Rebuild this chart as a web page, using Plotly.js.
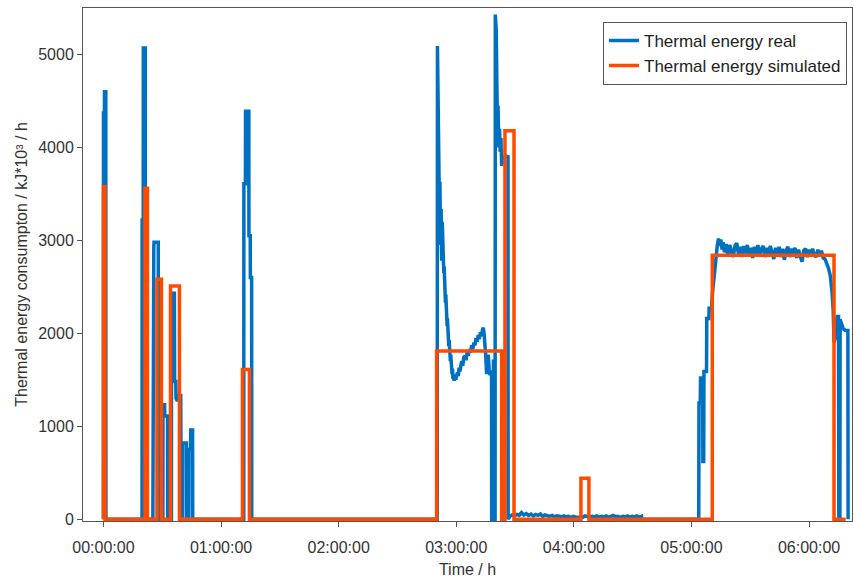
<!DOCTYPE html>
<html>
<head>
<meta charset="utf-8">
<script src="https://cdn.plot.ly/plotly-3.0.1.min.js"></script>
<style>html,body{margin:0;padding:0;background:#fff;}#chart{width:854px;height:578px;}</style>
</head>
<body>
<div id="chart"></div>
<script>
// Time in hours since 00:00:00
var tickHours = [0, 1, 2, 3, 4, 5, 6];
var tickLabels = ["00:00:00", "01:00:00", "02:00:00", "03:00:00", "04:00:00", "05:00:00", "06:00:00"];
var yTicks = [0, 1000, 2000, 3000, 4000, 5000];

// Thermal energy real (kJ*10^3 / h)
var realTime = [
  0, 0, 0.008, 0.009, 0.020, 0.021,
  0.328, 0.329, 0.338, 0.339, 0.356, 0.357,
  0.420, 0.421, 0.428, 0.430, 0.466, 0.467, 0.470, 0.471, 0.474, 0.475,
  0.478, 0.479, 0.505, 0.506, 0.520, 0.521, 0.545, 0.546,
  0.578, 0.579, 0.603, 0.605, 0.615, 0.617, 0.628, 0.640, 0.657, 0.660, 0.668, 0.670,
  0.672, 0.673, 0.705, 0.706, 0.726, 0.727, 0.740, 0.742, 0.758, 0.759,
  1.193, 1.194, 1.207, 1.208, 1.236, 1.237, 1.248, 1.249, 1.260, 1.261,
  2.838, 2.840, 2.846, 2.852, 2.857, 2.861, 2.866, 2.871, 2.876, 2.881, 2.886, 2.890,
  2.894, 2.897, 2.901, 2.904, 2.908, 2.911, 2.915, 2.918, 2.922, 2.925, 2.929, 2.932,
  2.936, 2.939, 2.943, 2.946, 2.950, 2.953, 2.957, 2.961, 2.964, 2.968, 2.972, 2.975,
  2.982, 2.989, 2.996, 3.003, 3.010, 3.017, 3.024, 3.031, 3.038, 3.046, 3.055, 3.064,
  3.074, 3.083, 3.093, 3.102, 3.112, 3.122, 3.131, 3.140, 3.150, 3.159, 3.168, 3.178,
  3.187, 3.196, 3.206, 3.215, 3.223, 3.230, 3.237, 3.244, 3.251, 3.258, 3.265, 3.272,
  3.280, 3.287, 3.295, 3.300, 3.301, 3.315, 3.316, 3.322, 3.323, 3.330, 3.332, 3.340,
  3.345, 3.350, 3.355, 3.362, 3.368, 3.374, 3.380, 3.386, 3.395, 3.420, 3.440, 3.441,
  3.455, 3.475, 3.495, 3.515, 3.535, 3.555, 3.575, 3.595, 3.615, 3.635, 3.655, 3.675,
  3.695, 3.715, 3.735, 3.755, 3.775, 3.795, 3.815, 3.835, 3.855, 3.875, 3.895, 3.915,
  3.935, 3.955, 3.975, 3.995, 4.015, 4.035, 4.055, 4.075, 4.095, 4.115, 4.135, 4.155,
  4.175, 4.195, 4.215, 4.235, 4.255, 4.275, 4.295, 4.315, 4.335, 4.355, 4.375, 4.395,
  4.415, 4.435, 4.455, 4.475, 4.495, 4.515, 4.535, 4.555, 4.575, 4.577,
  5.062, 5.064, 5.075, 5.077, 5.095, 5.097, 5.104, 5.106, 5.128, 5.130, 5.148, 5.150,
  5.170, 5.180, 5.190, 5.200, 5.210, 5.220, 5.230, 5.240, 5.250, 5.260, 5.270, 5.280,
  5.295, 5.310, 5.325, 5.340, 5.355, 5.370, 5.385, 5.400, 5.415, 5.430, 5.445, 5.460,
  5.475, 5.490, 5.505, 5.520, 5.535, 5.550, 5.565, 5.580, 5.595, 5.610, 5.625, 5.640,
  5.655, 5.670, 5.685, 5.700, 5.715, 5.730, 5.745, 5.760, 5.775, 5.790, 5.805, 5.820,
  5.835, 5.850, 5.865, 5.880, 5.895, 5.910, 5.925, 5.940, 5.955, 5.970, 5.985, 6.000,
  6.015, 6.030, 6.045, 6.060, 6.075, 6.090, 6.105, 6.120, 6.135, 6.150, 6.165, 6.180,
  6.195, 6.205, 6.212, 6.222, 6.232, 6.240, 6.250, 6.253, 6.262, 6.264, 6.290, 6.310,
  6.330, 6.332
];
var realEnergy = [
  0, 4370, 4370, 4600, 4600, 0,
  0, 3220, 3220, 5070, 5070, 0,
  0, 2930, 2930, 2980, 2980, 0, 0, 1930, 1930, 880,
  880, 0, 0, 1230, 1230, 1110, 1110, 0,
  0, 2430, 2430, 1480, 1480, 1300, 1270, 1330, 1330, 370, 370, 0,
  0, 820, 820, 0, 0, 750, 750, 960, 960, 0,
  0, 3610, 3610, 4390, 4390, 3050, 3050, 2600, 2600, 0,
  0, 5090, 4300, 3700, 3300, 3630, 2950, 3340, 2780, 3200, 2750, 2850,
  2650, 2720, 2480, 2560, 2330, 2420, 2200, 2290, 2080, 2160, 1960, 2040,
  1860, 1930, 1760, 1830, 1700, 1770, 1620, 1680, 1560, 1620, 1510, 1560,
  1490, 1540, 1500, 1560, 1580, 1540, 1630, 1590, 1670, 1700, 1650, 1740,
  1760, 1710, 1800, 1760, 1830, 1790, 1870, 1830, 1900, 1870, 1950, 1910,
  1980, 1940, 2010, 1970, 2040, 2060, 1990, 1910, 1750, 1560, 1680, 1770,
  1600, 1550, 1600, 1550, 0, 0, 1700, 1700, 0, 0, 5430, 5250,
  4700, 4250, 4450, 4000, 4200, 3950, 4100, 3800, 3880, 3910, 3900, 0,
  30, 45, 35, 50, 40, 70, 45, 60, 40, 55, 35, 50,
  40, 55, 30, 45, 35, 30, 40, 25, 35, 30, 25, 35,
  25, 30, 20, 30, 25, 15, 30, 20, 35, 25, 20, 30,
  25, 35, 20, 30, 25, 35, 20, 30, 40, 25, 30, 20,
  30, 25, 35, 20, 30, 25, 35, 20, 30, 0,
  0, 1250, 1250, 1520, 1520, 620, 620, 1590, 1590, 2160, 2160, 2270,
  2270, 2450, 2600, 2750, 2880, 2950, 3020, 2940, 3010, 2900, 2980, 2870,
  2960, 2840, 2950, 2870, 2820, 2940, 2970, 2850, 2930, 2820, 2940, 2860,
  2950, 2830, 2920, 2810, 2930, 2850, 2950, 2830, 2910, 2940, 2820, 2920,
  2840, 2940, 2850, 2800, 2920, 2840, 2930, 2820, 2910, 2790, 2890, 2930,
  2820, 2910, 2840, 2920, 2810, 2900, 2830, 2770, 2890, 2910, 2820, 2900,
  2830, 2910, 2840, 2820, 2900, 2830, 2890, 2810, 2800, 2760, 2700, 2620,
  2450, 2250, 1900, 1950, 2050, 2180, 2180, 0, 0, 2150, 2050, 2030,
  2030, 0
];

// Thermal energy simulated (step function)
var simTime = [0, 0, 0.013, 0.353, 0.374, 0.455, 0.493, 0.570, 0.646, 1.182, 1.241,
               2.833, 3.386, 3.414, 3.491, 4.060, 4.128, 5.177, 6.212, 6.311];
var simEnergy = [0, 3580, 0, 3560, 0, 2580, 0, 2510, 0, 1610, 0,
                 1810, 0, 4180, 0, 440, 0, 2840, 0, 0];

var fontFam = "Liberation Sans, Arial, sans-serif";

var traces = [
  {
    x: realTime, y: realEnergy, type: "scatter", mode: "lines",
    name: "Thermal energy real",
    line: {color: "#0070C0", width: 3.5}
  },
  {
    x: simTime, y: simEnergy, type: "scatter", mode: "lines",
    name: "Thermal energy simulated",
    line: {color: "#FF4A00", width: 3.5, shape: "hv"}
  }
];

var layout = {
  width: 854, height: 578,
  margin: {l: 83, r: 2, t: 8, b: 57},
  paper_bgcolor: "#fff", plot_bgcolor: "#fff",
  font: {family: fontFam, size: 16, color: "#333"},
  showlegend: true,
  legend: {
    x: 0.9935, xanchor: "right", y: 0.973, yanchor: "top",
    bgcolor: "#fff", bordercolor: "#555", borderwidth: 1,
    tracegroupgap: 0,
    font: {family: fontFam, size: 17, color: "#222"}
  },
  xaxis: {
    range: [-0.174, 6.365],
    tickmode: "array", tickvals: tickHours, ticktext: tickLabels,
    ticks: "outside", ticklen: 5, tickcolor: "#555",
    ticklabelstandoff: 7,
    showline: true, linecolor: "#555", linewidth: 1, mirror: true,
    showgrid: false, zeroline: false,
    tickfont: {family: fontFam, size: 16, color: "#333"},
    title: {text: "Time / h", font: {family: fontFam, size: 16, color: "#333"}, standoff: 10}
  },
  yaxis: {
    range: [-20, 5500],
    tickmode: "array", tickvals: yTicks,
    ticks: "outside", ticklen: 5, tickcolor: "#555",
    showline: true, linecolor: "#555", linewidth: 1, mirror: true,
    showgrid: false, zeroline: false,
    tickfont: {family: fontFam, size: 16, color: "#333"},
    title: {text: "Thermal energy consumpton / kJ*10³ / h", font: {family: fontFam, size: 16, color: "#333"}, standoff: 6}
  }
};

Plotly.newPlot("chart", traces, layout, {displayModeBar: false, staticPlot: true});
</script>
</body>
</html>
